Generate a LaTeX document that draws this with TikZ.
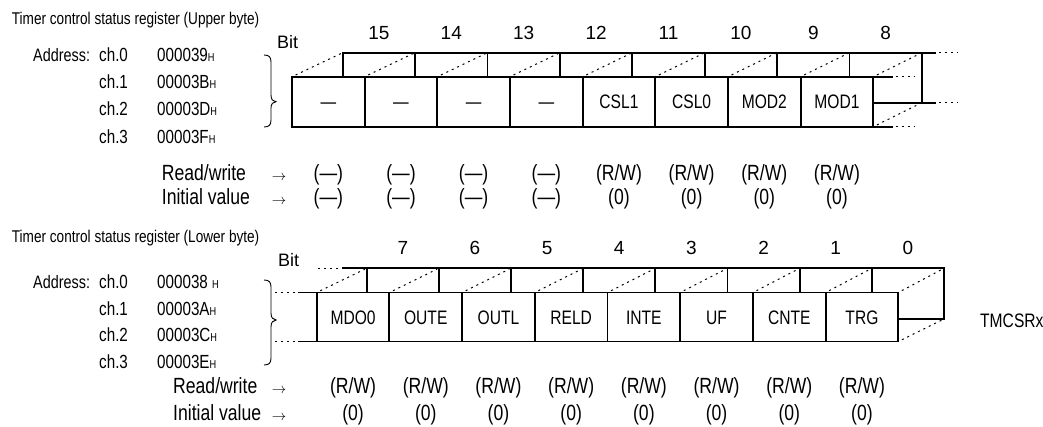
\documentclass[tikz,border=0pt]{standalone}
\usepackage{fontspec}
\setmainfont{Liberation Sans}[FakeStretch=0.8]
\newfontfamily\plainsans{Liberation Sans}
\newcommand{\hx}{{\fontsize{11.5}{11.5}\selectfont H}}
\begin{document}
\begin{tikzpicture}[x=1pt,y=-1pt,
  reg/.style={line width=1.9pt, line cap=rect},
  hid/.style={line width=1pt, dash pattern=on 2pt off 4pt},
  fbox/.style={draw, line width=1.9pt, inner sep=0pt, minimum height=#1, text height=14pt, text depth=0pt, font=\fontsize{19.5}{19.5}\selectfont},
  ttl/.style={anchor=base west, inner sep=0pt, font=\fontsize{17}{17}\selectfont},
  adr/.style={anchor=base west, inner sep=0pt, font=\fontsize{19}{19}\selectfont},
  adrl/.style={anchor=base west, inner sep=0pt, font=\fontsize{18}{18}\selectfont},
  rowl/.style={anchor=base west, inner sep=0pt, font=\fontsize{22}{22}\selectfont},
  rowv/.style={anchor=base, inner sep=0pt, font=\fontsize{22}{22}\selectfont},
  arr/.style={anchor=base west, inner sep=0pt, font=\fontsize{15}{15}\selectfont},
  bitl/.style={anchor=base west, inner sep=0pt, font=\plainsans\fontsize{18}{18}\selectfont},
  bitn/.style={anchor=base, inner sep=0pt, font=\plainsans\fontsize{19}{19}\selectfont},
  brc/.style={line width=0.9pt},
]
\useasboundingbox (0,0) rectangle (1043,427);

% ================= UPPER BYTE =================
\node[ttl] (utitle) at (11.7,25) {Timer control status register (Upper byte)};
\node[adrl] (uaddr) at (33,61.4) {Address:};
\node[adr] (uch0) at (99,61.4) {ch.0};
\node[adr] (uch1) at (99,88.7) {ch.1};
\node[adr] (uch2) at (99,116) {ch.2};
\node[adr] (uch3) at (99,143.3) {ch.3};
\node[adr] (ua0) at (157,61.4) {000039\hx};
\node[adr] (ua1) at (157,88.7) {00003B\hx};
\node[adr] (ua2) at (157,116) {00003D\hx};
\node[adr] (ua3) at (157,143.3) {00003F\hx};
\draw[brc] (264,55) .. controls (269,55) and (271,57) .. (271,62) -- (271,95)
  .. controls (271,99.5) and (273,101.7) .. (276,101.7)
  .. controls (273,101.7) and (271,104) .. (271,108) -- (271,120)
  .. controls (271,125) and (269,127) .. (264,127);

\node[bitl] (ubit) at (277,48.3) {Bit};
\def\ufx{292}\def\ufw{72.66}\def\uft{76.7}\def\ufb{126.7}
\def\ubx{342.7}\def\ubw{72.4}\def\ubt{52.7}\def\ubb{102.7}
\foreach \n [count=\k from 0] in {15,14,13,12,11,10,9,8}
  \node[bitn] (ub\n) at ({\ubx+(\k+0.5)*\ubw},39.3) {\n};

% hidden perspective edges
\foreach \k in {0,...,8}
  \draw[hid, shorten <=4pt, shorten >=2pt] ({\ufx+\k*\ufw},\uft) -- ({\ubx+\k*\ubw},\ubt);
\draw[hid, shorten <=4pt, shorten >=2pt] ({\ufx+8*\ufw},\ufb) -- ({\ubx+8*\ubw},\ubb);
% back row
\foreach \k in {0,...,7}
  \draw[reg] ({\ubx+\k*\ubw},\ubt) -- ({\ubx+\k*\ubw},\uft);
\draw[reg] ({\ubx+8*\ubw},\ubt) -- ({\ubx+8*\ubw},\ubb);
\draw[reg] (\ubx,\ubt) -- (935,\ubt);
\draw[hid] (939,\ubt) -- (958,\ubt);
\draw[reg] ({\ufx+8*\ufw},\ubb) -- (935,\ubb);
\draw[hid] (939,\ubb) -- (958,\ubb);
% front extensions (cut)
\draw[reg] ({\ufx+8*\ufw},\uft) -- (891.7,\uft);
\draw[hid] (895.5,\uft) -- (915,\uft);
\draw[reg] ({\ufx+8*\ufw},\ufb) -- (891.7,\ufb);
\draw[hid] (895.5,\ufb) -- (915,\ufb);
% front boxes
\foreach \lab [count=\k from 0] in {—,—,—,—,CSL1,CSL0,MOD2,MOD1}
  \node[fbox=50pt, minimum width=\ufw pt] (U\k) at ({\ufx+(\k+0.5)*\ufw},{(\uft+\ufb)/2}) {\lab};

% rows
\node[rowl] (urwl) at (161.7,180.5) {Read/write};
\node[rowl] (uivl) at (161.7,205) {Initial value};
\node[arr] (urwa) at (271.7,180.5) {$\rightarrow$};
\node[arr] (uiva) at (271.7,205) {$\rightarrow$};
\foreach \v [count=\k from 0] in {(—),(—),(—),(—),(R/W),(R/W),(R/W),(R/W)}
  \node[rowv] (urw\k) at ({\ufx+(\k+0.5)*\ufw},180.5) {\v};
\foreach \v [count=\k from 0] in {(—),(—),(—),(—),(0),(0),(0),(0)}
  \node[rowv] (uiv\k) at ({\ufx+(\k+0.5)*\ufw},205) {\v};

% ================= LOWER BYTE =================
\node[ttl] (ltitle) at (11.7,243) {Timer control status register (Lower byte)};
\node[adrl] (laddr) at (33,288.4) {Address:};
\node[adr] (lch0) at (99,288.4) {ch.0};
\node[adr] (lch1) at (99,315.1) {ch.1};
\node[adr] (lch2) at (99,341.7) {ch.2};
\node[adr] (lch3) at (99,368.4) {ch.3};
\node[adr] (la0) at (157,288.4) {000038 \hx};
\node[adr] (la1) at (157,315.1) {00003A\hx};
\node[adr] (la2) at (157,341.7) {00003C\hx};
\node[adr] (la3) at (157,368.4) {00003E\hx};
\draw[brc] (264,280) .. controls (269,280) and (271,282) .. (271,287) -- (271,313)
  .. controls (271,317.5) and (273,320) .. (276,320)
  .. controls (273,320) and (271,322.5) .. (271,327) -- (271,358)
  .. controls (271,363) and (269,365) .. (264,365);

\node[bitl] (lbit) at (278,266.5) {Bit};
\def\lfx{316.7}\def\lfw{72.7}\def\lft{292.5}\def\lfb{341.5}
\def\lbx{366.7}\def\lbw{72.16}\def\lbt{268.3}\def\lbb{319}
\foreach \n [count=\k from 0] in {7,6,5,4,3,2,1,0}
  \node[bitn] (lb\n) at ({\lbx+(\k+0.5)*\lbw},254.8) {\n};

\foreach \k in {0,...,8}
  \draw[hid, shorten <=4pt, shorten >=2pt] ({\lfx+\k*\lfw},\lft) -- ({\lbx+\k*\lbw},\lbt);
\draw[hid, shorten <=4pt, shorten >=2pt] ({\lfx+8*\lfw},\lfb) -- ({\lbx+8*\lbw},\lbb);
\foreach \k in {0,...,7}
  \draw[reg] ({\lbx+\k*\lbw},\lbt) -- ({\lbx+\k*\lbw},\lft);
\draw[reg] ({\lbx+8*\lbw},\lbt) -- ({\lbx+8*\lbw},\lbb);
\draw[reg] (343.3,\lbt) -- ({\lbx+8*\lbw},\lbt);
\draw[hid] (318,\lbt) -- (339.5,\lbt);
\draw[reg] ({\lfx+8*\lfw},\lbb) -- ({\lbx+8*\lbw},\lbb);
\draw[reg] (299.3,\lft) -- (\lfx,\lft);
\draw[hid] (275,\lft) -- (295.5,\lft);
\draw[reg] (299.3,\lfb) -- (\lfx,\lfb);
\draw[hid] (275,\lfb) -- (295.5,\lfb);
\foreach \lab [count=\k from 0] in {MDO0,OUTE,OUTL,RELD,INTE,UF,CNTE,TRG}
  \node[fbox=49pt, minimum width=\lfw pt] (L\k) at ({\lfx+(\k+0.5)*\lfw},{(\lft+\lfb)/2}) {\lab};

\node[adr, font=\fontsize{19.5}{19.5}\selectfont] (tmcsr) at (980,327.8) {TMCSRx};

\node[rowl] (lrwl) at (173,393.5) {Read/write};
\node[rowl] (livl) at (173,420) {Initial value};
\node[arr] (lrwa) at (271.7,393.5) {$\rightarrow$};
\node[arr] (liva) at (271.7,420) {$\rightarrow$};
\foreach \k in {0,...,7} {
  \node[rowv] (lrw\k) at ({\lfx+(\k+0.5)*\lfw},393.5) {(R/W)};
  \node[rowv] (liv\k) at ({\lfx+(\k+0.5)*\lfw},420) {(0)};
}
\end{tikzpicture}
\end{document}
